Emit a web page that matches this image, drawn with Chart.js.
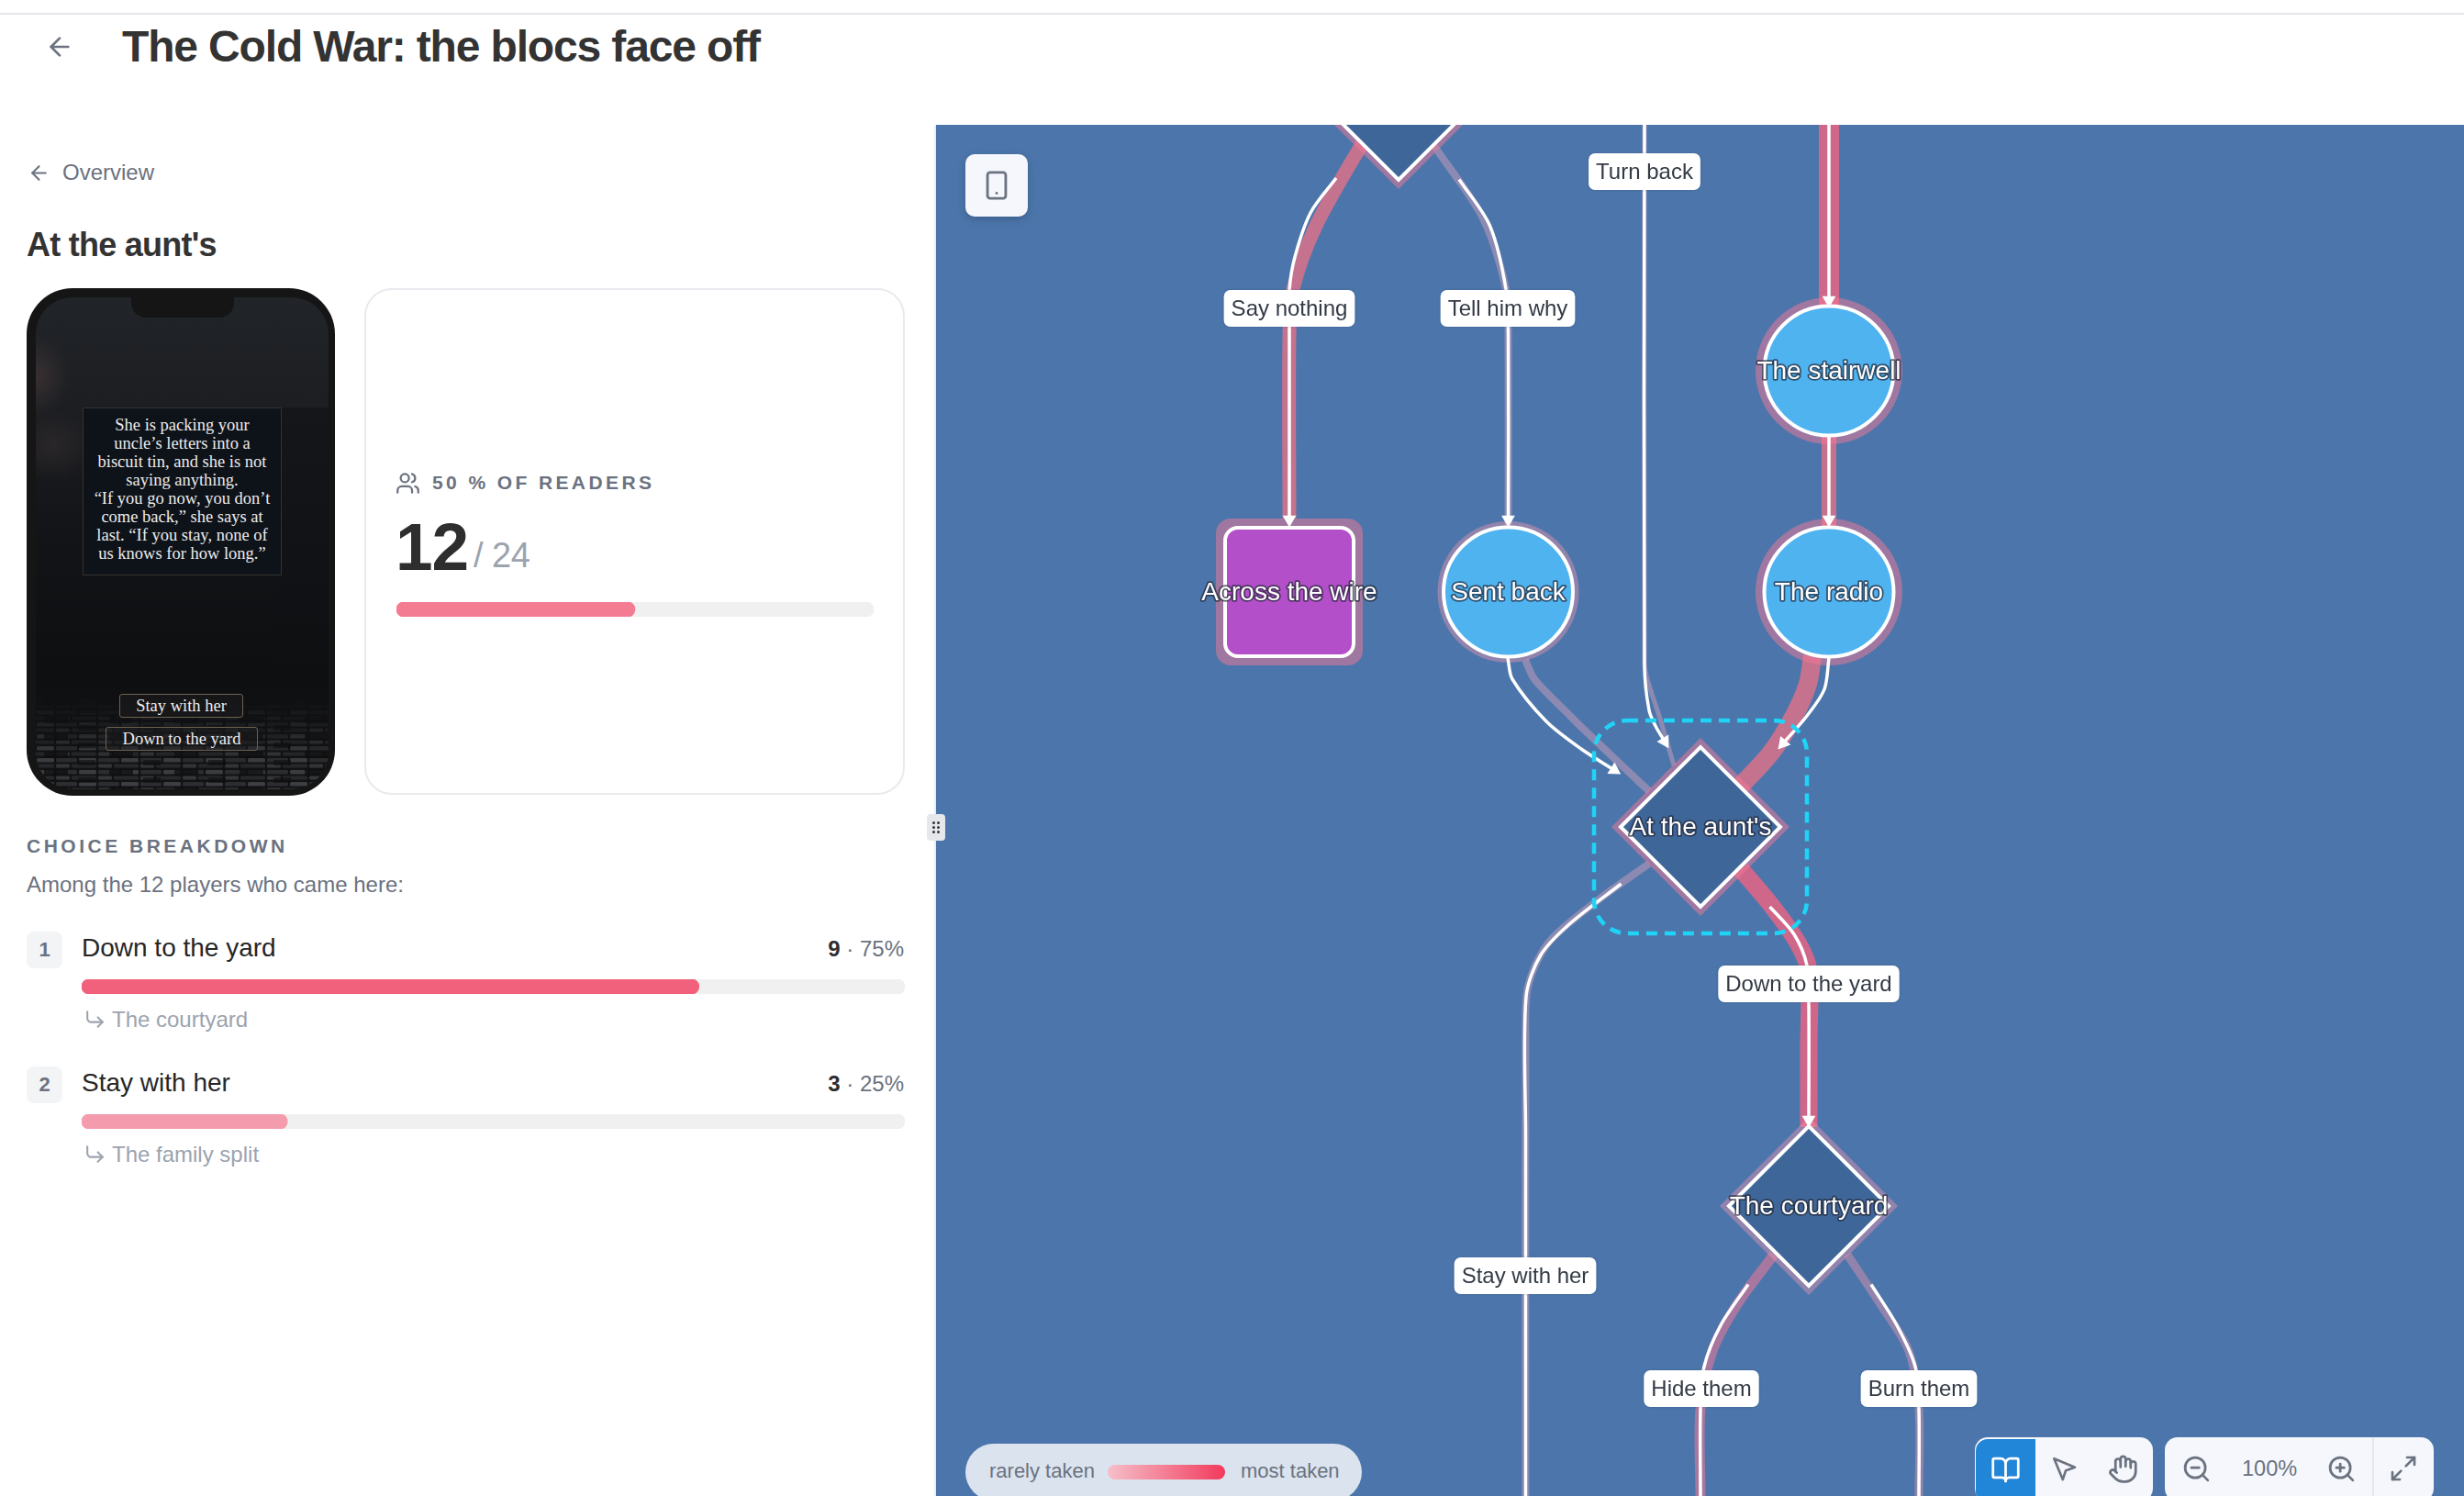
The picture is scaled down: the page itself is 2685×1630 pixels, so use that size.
<!DOCTYPE html>
<html lang="en">
<head>
<meta charset="utf-8">
<title>The Cold War: the blocs face off</title>
<script src="https://cdn.jsdelivr.net/npm/chart.js@4/dist/chart.umd.min.js"></script>
<style>
  * { box-sizing: border-box; }
  html, body { margin: 0; background: #fff; }
  body { width: 2685px; height: 1630px; position: relative; overflow: hidden; font-family: "Liberation Sans", sans-serif; color: #2e2e2e; }
  .abs { position: absolute; }
  .mid { transform: translateY(-50%); white-space: nowrap; line-height: 1; }
  svg.ic { fill: none; stroke: currentColor; stroke-width: 2; stroke-linecap: round; stroke-linejoin: round; position: absolute; }
  .topline { left: 0; top: 14px; width: 2685px; height: 2px; background: #e4e6ea; }
  h1 { margin: 0; left: 133px; top: 51px; font-size: 48px; font-weight: 700; letter-spacing: -1.15px; color: #333; }
  h2 { margin: 0; left: 29px; top: 267px; font-size: 36px; font-weight: 700; letter-spacing: -0.75px; color: #333; }
  .overview { left: 68px; top: 188px; font-size: 24px; color: #6b7280; }
  .divider { left: 1018px; top: 136px; width: 2px; height: 1494px; background: #e8ecf3; }
  .grip { left: 1010px; top: 887px; width: 20px; height: 29px; border-radius: 4px; background: #e5e7eb; z-index: 3; color: #333; font-size: 0; }
  .grip i { position: absolute; width: 3px; height: 3px; border-radius: 50%; background: #333; }

  .phone { left: 29px; top: 314px; width: 336px; height: 553px; border-radius: 50px; background: #151515; overflow: hidden; }
  .screen { position: absolute; left: 10px; top: 10px; width: 319px; height: 536px; border-radius: 40px; overflow: hidden;
    background:
      radial-gradient(50px 60px at 0% 16%, rgba(82,64,64,.5), transparent 75%),
      radial-gradient(60px 50px at 6% 30%, rgba(62,52,54,.45), transparent 80%),
      linear-gradient(180deg, #212428 0%, #1c1e22 22%, #131417 48%, #0e0f11 76%, #121315 100%); }
  .bldg { position: absolute; right: 0; top: 120px; width: 58px; height: 300px; background: linear-gradient(180deg, #15161a, #0e0f11); }
  .notch { position: absolute; left: 104px; top: 0; width: 112px; height: 22px; border-radius: 0 0 16px 16px; background: #151515; }
  .cobble { position: absolute; left: 0; top: 436px; }
  .story { left: 61px; top: 130px; width: 217px; height: 183px; background: #0e1219; border: 1px solid #34322f; text-align: center;
    font-family: "Liberation Serif", serif; font-size: 18.5px; line-height: 20px; color: #ececec; padding: 8px 4px; }
  .pbtn { height: 26px; border: 1px solid #6d6150; border-radius: 3px; background: rgba(24,24,26,.82); text-align: center;
    font-family: "Liberation Serif", serif; font-size: 18.5px; line-height: 24px; color: #ececec; }

  .card { left: 397px; top: 314px; width: 589px; height: 552px; border: 2px solid #e9eaed; border-radius: 30px; background: #fff; }
  .stat { left: 471px; top: 525px; font-size: 21px; font-weight: 700; letter-spacing: 3.4px; color: #6b7280; }
  .big { left: 431px; top: 595px; font-size: 73px; font-weight: 700; letter-spacing: -1px; color: #2e2e2e; }
  .of { left: 516px; top: 605px; font-size: 38px; color: #9ca3af; letter-spacing: -0.5px; }
  .sect { left: 29px; top: 921px; font-size: 21px; font-weight: 700; letter-spacing: 3.5px; color: #6b7280; }
  .among { left: 29px; top: 964px; font-size: 24px; color: #6b7280; }
  .badge { left: 29px; width: 39px; height: 40px; border-radius: 8px; background: #f3f4f6; color: #6b7280; font-size: 22px; font-weight: 700; text-align: center; line-height: 40px; }
  .ctitle { left: 89px; font-size: 28px; color: #262626; }
  .ccount { right: 1700px; font-size: 24px; color: #6b7280; }
  .ccount b { color: #2e2e2e; }
  .ctarget { left: 122px; font-size: 24px; color: #9ca3af; }

  #graphWrap { left: 1020px; top: 136px; width: 1665px; height: 1494px; background: #4c76ab; }
  .tool { background: #f5f7fc; border-radius: 14px; z-index: 2; color: #6b7280; }
  .devbtn { left: 1052px; top: 168px; width: 68px; height: 68px; border-radius: 10px; box-shadow: 0 3px 8px rgba(20,40,70,.28); }
  .legend { left: 1052px; top: 1573px; width: 432px; height: 62px; border-radius: 31px; background: #dbe3ee; z-index: 2; }
  .legend span { position: absolute; top: 30px; font-size: 22px; color: #6b7280; transform: translateY(-50%); white-space: nowrap; line-height: 1; }
  .legend i { position: absolute; left: 155px; top: 23px; width: 128px; height: 16px; border-radius: 8px; background: linear-gradient(90deg, #f6bfca, #f23a5c); }
  .mode { left: 2152px; top: 1566px; width: 194px; height: 70px; overflow: hidden; }
  .mode .on { position: absolute; left: 1px; top: 2px; width: 65px; height: 70px; background: #2185d8; border-radius: 13px 0 0 0; color: #fff; }
  .zoombox { left: 2359px; top: 1566px; width: 293px; height: 70px; }
  .zoombox .sep { position: absolute; left: 226px; top: 0; width: 2px; height: 70px; background: #e3e6ec; }
</style>
</head>
<body>
<div class="abs topline"></div>
<svg class="ic" style="left:49px;top:35px;color:#6b7280" width="32" height="32" viewBox="0 0 24 24"><path d="m12 19-7-7 7-7"/><path d="M19 12H5"/></svg>
<h1 class="abs mid">The Cold War: the blocs face off</h1>

<svg class="ic" style="left:30px;top:176px;color:#6b7280" width="25" height="25" viewBox="0 0 24 24"><path d="m12 19-7-7 7-7"/><path d="M19 12H5"/></svg>
<div class="abs mid overview">Overview</div>
<h2 class="abs mid" id="nodeTitle"></h2>
<div class="abs divider"></div>
<div class="abs grip"><i style="left:6px;top:8px"></i><i style="left:11px;top:8px"></i><i style="left:6px;top:13px"></i><i style="left:11px;top:13px"></i><i style="left:6px;top:18px"></i><i style="left:11px;top:18px"></i></div>

<!-- phone preview -->
<div class="abs phone">
  <div class="screen">
    <div class="bldg"></div>
    <svg class="cobble" width="319" height="100">
      <defs>
        <pattern id="stones" width="46" height="13" patternUnits="userSpaceOnUse">
          <rect x="1" y="1" width="19" height="4.5" rx="1.5" fill="#55565a"/>
          <rect x="22" y="1" width="23" height="4.5" rx="1.5" fill="#3b3c3f"/>
          <rect x="-7" y="7.5" width="27" height="4" rx="1.5" fill="#343538"/>
          <rect x="39" y="7.5" width="27" height="4" rx="1.5" fill="#343538"/>
          <rect x="22" y="7.5" width="15" height="4" rx="1.5" fill="#4a4b4e"/>
        </pattern>
        <pattern id="gaps" width="71" height="19" patternUnits="userSpaceOnUse">
          <rect x="9" y="2" width="26" height="7" fill="#0c0c0d" opacity=".75"/>
          <rect x="46" y="11" width="19" height="6" fill="#0c0c0d" opacity=".6"/>
        </pattern>
        <linearGradient id="fade" x1="0" y1="0" x2="0" y2="1">
          <stop offset="0" stop-color="#000"/><stop offset=".25" stop-color="#333"/><stop offset=".65" stop-color="#999"/><stop offset="1" stop-color="#aaa"/>
        </linearGradient>
        <mask id="cobbleMask"><rect width="319" height="100" fill="url(#fade)"/></mask>
      </defs>
      <g mask="url(#cobbleMask)">
        <rect width="319" height="100" fill="url(#stones)"/>
        <rect width="319" height="100" fill="url(#gaps)"/>
      </g>
    </svg>
    <div class="notch"></div>
  </div>
  <div class="abs story" id="story"></div>
  <div class="abs pbtn" style="left:101px;top:442px;width:135px">Stay with her</div>
  <div class="abs pbtn" style="left:86px;top:478px;width:166px;background:rgba(30,30,32,.4)">Down to the yard</div>
</div>

<!-- readers card -->
<div class="abs card"></div>
<svg class="ic" style="left:431px;top:513px;color:#6b7280" width="27" height="27" viewBox="0 0 24 24"><path d="M16 21v-2a4 4 0 0 0-4-4H6a4 4 0 0 0-4 4v2"/><circle cx="9" cy="7" r="4"/><path d="M22 21v-2a4 4 0 0 0-3-3.87"/><path d="M16 3.13a4 4 0 0 1 0 7.75"/></svg>
<div class="abs mid stat" id="statText"></div>
<div class="abs mid big" id="statCount"></div>
<div class="abs mid of" id="statTotal"></div>
<canvas class="abs" id="readersBar" width="520" height="16" style="left:432px;top:656px"></canvas>

<!-- choices -->
<div class="abs mid sect">CHOICE BREAKDOWN</div>
<div class="abs mid among" id="amongText"></div>
<div id="choices"></div>

<!-- graph -->
<div class="abs" id="graphWrap"><canvas id="graph" width="1665" height="1494"></canvas></div>
<div class="abs tool devbtn"><svg class="ic" style="left:17px;top:17px" width="34" height="34" viewBox="0 0 24 24"><rect x="5" y="2" width="14" height="20" rx="2"/><path d="M12 18h.01"/></svg></div>
<div class="abs legend"><span style="left:26px">rarely taken</span><i></i><span style="left:300px">most taken</span></div>
<div class="abs tool mode">
  <div class="on"><svg class="ic" style="left:16px;top:17px" width="33" height="33" viewBox="0 0 24 24"><path d="M12 7v14"/><path d="M3 18a1 1 0 0 1-1-1V4a1 1 0 0 1 1-1h5a4 4 0 0 1 4 4 4 4 0 0 1 4-4h5a1 1 0 0 1 1 1v13a1 1 0 0 1-1 1h-6a3 3 0 0 0-3 3 3 3 0 0 0-3-3z"/></svg></div>
  <svg class="ic" style="left:81px;top:18px" width="32" height="32" viewBox="0 0 24 24"><path d="m4 4 7.07 17 2.51-7.39L21 11.07z"/></svg>
  <svg class="ic" style="left:145px;top:18px" width="33" height="33" viewBox="0 0 24 24"><path d="M18 11V6a2 2 0 0 0-2-2a2 2 0 0 0-2 2"/><path d="M14 10V4a2 2 0 0 0-2-2a2 2 0 0 0-2 2v2"/><path d="M10 10.5V6a2 2 0 0 0-2-2a2 2 0 0 0-2 2v8"/><path d="M18 8a2 2 0 1 1 4 0v6a8 8 0 0 1-8 8h-2c-2.8 0-4.5-.86-5.99-2.34l-3.6-3.6a2 2 0 0 1 2.83-2.82L7 15"/></svg>
</div>
<div class="abs tool zoombox">
  <svg class="ic" style="left:18px;top:18px" width="33" height="33" viewBox="0 0 24 24"><circle cx="11" cy="11" r="8"/><path d="m21 21-4.35-4.35"/><path d="M8 11h6"/></svg>
  <div class="abs mid" style="left:114px;top:35px;font-size:23.5px;width:0"><b style="font-weight:400;display:block;width:60px;margin-left:-30px;text-align:center;">100%</b></div>
  <svg class="ic" style="left:176px;top:18px" width="33" height="33" viewBox="0 0 24 24"><circle cx="11" cy="11" r="8"/><path d="m21 21-4.35-4.35"/><path d="M11 8v6"/><path d="M8 11h6"/></svg>
  <div class="sep"></div>
  <svg class="ic" style="left:244px;top:18px" width="32" height="32" viewBox="0 0 24 24"><path d="M15 3h6v6"/><path d="m21 3-7 7"/><path d="m3 21 7-7"/><path d="M9 21H3v-6"/></svg>
</div>

<script>
// ──────────────────────────────────────────────
// Data
// ──────────────────────────────────────────────
const currentNode = "At the aunt's";
const readersHere = 12;
const readersTotal = 24;
const storyLines = ['She is packing your', 'uncle’s letters into a', 'biscuit tin, and she is not', 'saying anything.', '“If you go now, you don’t', 'come back,” she says at', 'last. “If you stay, none of', 'us knows for how long.”'];

const choiceLabels = ['Down to the yard', 'Stay with her'];
const choiceCounts = [9, 3];
const choiceTargets = ['The courtyard', 'The family split'];

// graph nodes, in the graph's own units (origin at its top left corner)
const nodeLabels = ['', 'Across the wire', 'Sent back', 'The stairwell', 'The radio', currentNode, 'The courtyard'];
const nodeX = [504, 385, 623.5, 973, 973, 833, 951];
const nodeY = [-27, 509, 509, 268, 509, 765, 1178];
const nodeKinds = ['scene', 'end', 'info', 'info', 'info', 'scene', 'scene'];

// edge labels
const edgeLabels = ['Say nothing', 'Tell him why', 'Turn back', 'Down to the yard', 'Stay with her', 'Hide them', 'Burn them'];
const edgeLabelX = [385, 623, 772, 951, 642, 834, 1071];
const edgeLabelY = [200, 200, 51, 936, 1254, 1377, 1377];

// traffic band under each edge
const sayNothingBand = [[480, 0], [463, 23], [414, 110], [389, 179], [385, 229], [385, 429]];
const tellHimBand = [[530, 5], [547, 29], [596, 102], [621, 179], [623.5, 240], [623.5, 438]];
const turnBackBand = [[772, 0], [772, 585], [775, 604], [788, 644], [804, 698]];
const stairwellInBand = [[973, 0], [973, 200]];
const stairwellOutBand = [[973, 338], [973, 438]];
const radioOutBand = [[955, 579], [950, 609], [935, 644], [910, 684], [877, 720]];
const sentBackBand = [[642, 583], [652, 604], [691, 644], [703, 656], [777, 726]];
const stayBand = [[777, 805], [721, 845], [667.5, 891], [645, 939], [642.5, 1000], [642.5, 1494]];
const yardBand = [[877, 811], [913, 854], [940, 893], [951, 922], [951, 1000], [951, 1092]];
const hideBand = [[913, 1231], [873, 1285], [846, 1336], [833, 1399], [833, 1494]];
const burnBand = [[993, 1231], [1029, 1285], [1060, 1336], [1071, 1399], [1071, 1494]];

// thin line drawn on top of the band
const sayNothingLine = [[436, 58], [408, 96], [391, 144], [385, 180], [385, 220], [385, 430]];
const tellHimLine = [[570, 59.5], [603.5, 110], [621, 179], [623.5, 230], [623.5, 430]];
const turnBackLine = [[772, 0], [772, 590], [777, 638], [784, 655], [794, 672]];
const stairwellInLine = [[973, 0], [973, 191]];
const stairwellOutLine = [[973, 338], [973, 430]];
const radioOutLine = [[973, 581], [968, 615], [949, 644], [923, 674]];
const sentBackLine = [[623, 581], [628, 604], [665, 650], [703, 680], [739, 703]];
const stayLine = [[746.5, 827], [690, 871], [658.6, 905], [643, 950], [642.5, 1100], [642.5, 1494]];
const yardLine = [[908.6, 852], [935, 882], [949, 916], [951, 960], [951, 1084]];
const hideLine = [[885, 1263.5], [855, 1308], [837, 1353], [833, 1400], [833, 1494]];
const burnLine = [[1019, 1263.5], [1047, 1308], [1067, 1353], [1071, 1400], [1071, 1494]];

// ──────────────────────────────────────────────
// Edge styles: band width and colour follow traffic
// ──────────────────────────────────────────────
const TOP = 'rgba(240,100,130,0.80)';
const HOT = 'rgba(244,112,132,0.72)';
const WARM = 'rgba(244,120,150,0.55)';
const MILD = 'rgba(244,150,175,0.42)';
const PALE = 'rgba(244,170,190,0.38)';

const bands = [
  [sayNothingBand, 15, HOT], [tellHimBand, 8, PALE], [turnBackBand, 5, PALE],
  [stairwellInBand, 22, TOP], [stairwellOutBand, 16, HOT], [radioOutBand, 20, HOT],
  [sentBackBand, 8, PALE], [stayBand, 8, PALE], [yardBand, 19, TOP],
  [hideBand, 11, WARM], [burnBand, 9, MILD],
];
const lines = [
  [sayNothingLine, true], [tellHimLine, true], [turnBackLine, true],
  [stairwellInLine, true], [stairwellOutLine, true], [radioOutLine, true],
  [sentBackLine, true], [stayLine, false], [yardLine, true],
  [hideLine, false], [burnLine, false],
];

const points = (pairs) => pairs.map(([x, y]) => ({ x, y }));

const arrowAngle = (pairs) => {
  const [x0, y0] = pairs[pairs.length - 2];
  const [x1, y1] = pairs[pairs.length - 1];
  return Math.atan2(x1 - x0, y0 - y1) * 180 / Math.PI;
};

// rounded square: Chart.js' own rectRounded is too round for the ending nodes
function roundedSprite(size, radius, fill, stroke) {
  const c = document.createElement('canvas');
  c.width = size; c.height = size;
  const g = c.getContext('2d');
  const inset = stroke ? 2 : 0;
  g.fillStyle = fill;
  g.beginPath();
  g.roundRect(inset, inset, size - inset * 2, size - inset * 2, radius);
  g.fill();
  if (stroke) { g.strokeStyle = stroke; g.lineWidth = 4; g.stroke(); }
  return c;
}
const endSprite = roundedSprite(144, 14, '#b34fc8', '#fff');
const endHaloSprite = roundedSprite(160, 16, 'rgba(244,120,150,0.50)');

const isScene = (i) => nodeKinds[i] === 'scene';
const isEnd = (i) => nodeKinds[i] === 'end';
const haloRadius = (i) => (isScene(i) ? 97 : nodeLabels[i] === 'Sent back' ? 77 : 80);
const haloColor = (i) => (nodeLabels[i] === 'The courtyard' || nodeLabels[i] === 'Sent back' ? 'rgba(244,150,175,0.42)' : 'rgba(244,120,150,0.50)');

const graphDatasets = [];
// first dataset is painted last, so the list runs from top to bottom
lines.forEach(([pairs, hasArrow]) => {
  const last = pairs.length - 1;
  graphDatasets.push({
    data: points(pairs),
    showLine: true,
    tension: 0.3,
    borderColor: '#fff',
    borderWidth: 3.5,
    pointStyle: 'triangle',
    pointRadius: (c) => (hasArrow && c.dataIndex === last ? 8.5 : 0),
    pointRotation: arrowAngle(pairs),
    pointBackgroundColor: '#fff',
    pointBorderWidth: 0,
  });
});
graphDatasets.push({
  data: nodeX.map((x, i) => ({ x, y: nodeY[i] })),
  pointStyle: (c) => (isEnd(c.dataIndex) ? endSprite : isScene(c.dataIndex) ? 'rectRot' : 'circle'),
  pointRadius: (c) => (isScene(c.dataIndex) ? 87 : 70.5),
  pointBackgroundColor: (c) => (isScene(c.dataIndex) ? '#3f6699' : '#4fb3f0'),
  pointBorderColor: '#fff',
  pointBorderWidth: 4,
  showLine: false,
  clip: false,
});
graphDatasets.push({
  data: nodeX.map((x, i) => ({ x, y: nodeY[i] })),
  pointStyle: (c) => (isEnd(c.dataIndex) ? endHaloSprite : isScene(c.dataIndex) ? 'rectRot' : 'circle'),
  pointRadius: (c) => haloRadius(c.dataIndex),
  pointBackgroundColor: (c) => haloColor(c.dataIndex),
  pointBorderWidth: 0,
  showLine: false,
  clip: false,
});
bands.forEach(([pairs, width, color]) => {
  graphDatasets.push({
    data: points(pairs),
    showLine: true,
    tension: 0.3,
    borderColor: color,
    borderWidth: width,
    pointRadius: 0,
  });
});

// ──────────────────────────────────────────────
// Overlays: selection frame and all graph text
// ──────────────────────────────────────────────
const graphOverlay = {
  id: 'graphOverlay',
  afterDraw(chart) {
    const { ctx, scales: { x, y } } = chart;
    const sel = nodeLabels.indexOf(currentNode);

    ctx.save();
    const half = 116;
    const sx = x.getPixelForValue(nodeX[sel]);
    const sy = y.getPixelForValue(nodeY[sel]);
    ctx.strokeStyle = '#1fd4f7';
    ctx.lineWidth = 4.5;
    ctx.setLineDash([12, 8]);
    ctx.beginPath();
    ctx.roundRect(sx - half, sy - half, half * 2, half * 2, 36);
    ctx.stroke();
    ctx.restore();

    ctx.save();
    ctx.textAlign = 'center';
    ctx.textBaseline = 'middle';
    ctx.font = '24px "Liberation Sans", sans-serif';
    edgeLabels.forEach((label, i) => {
      const px = x.getPixelForValue(edgeLabelX[i]);
      const py = y.getPixelForValue(edgeLabelY[i]);
      const w = ctx.measureText(label).width + 16;
      ctx.fillStyle = '#fff';
      ctx.shadowColor = 'rgba(20,40,70,0.25)';
      ctx.shadowBlur = 3;
      ctx.beginPath();
      ctx.roundRect(px - w / 2, py - 20, w, 40, 7);
      ctx.fill();
      ctx.shadowBlur = 0;
      ctx.shadowColor = 'transparent';
      ctx.fillStyle = '#333a45';
      ctx.fillText(label, px, py + 1);
    });

    ctx.font = '28px "Liberation Sans", sans-serif';
    nodeLabels.forEach((label, i) => {
      if (!label) return;
      const px = x.getPixelForValue(nodeX[i]);
      const py = y.getPixelForValue(nodeY[i]);
      ctx.lineWidth = 3.5;
      ctx.lineJoin = 'round';
      ctx.strokeStyle = 'rgba(35,40,55,0.7)';
      ctx.strokeText(label, px, py + 1);
      ctx.fillStyle = '#fff';
      ctx.fillText(label, px, py + 1);
    });
    ctx.restore();
  },
};

Chart.defaults.animation = false;

new Chart(document.getElementById('graph'), {
  type: 'scatter',
  data: { datasets: graphDatasets },
  options: {
    responsive: false,
    events: [],
    layout: { padding: 0, autoPadding: false },
    plugins: { legend: { display: false }, tooltip: { enabled: false } },
    scales: {
      x: { type: 'linear', display: false, min: 0, max: 1665 },
      y: { type: 'linear', display: false, min: 0, max: 1494, reverse: true },
    },
  },
  plugins: [graphOverlay],
});

// ──────────────────────────────────────────────
// Progress bars
// ──────────────────────────────────────────────
function progressBar(canvas, value, max, color) {
  return new Chart(canvas, {
    type: 'bar',
    data: {
      labels: [''],
      datasets: [
        { data: [value], backgroundColor: color, borderRadius: 8, borderSkipped: false },
        { data: [max], backgroundColor: '#f0f0f1', borderRadius: 8, borderSkipped: false },
      ],
    },
    options: {
      responsive: false,
      indexAxis: 'y',
      events: [],
      grouped: false,
      barPercentage: 1,
      categoryPercentage: 1,
      layout: { padding: 0 },
      plugins: { legend: { display: false }, tooltip: { enabled: false } },
      scales: { x: { display: false, min: 0, max }, y: { display: false } },
    },
  });
}

document.getElementById('nodeTitle').textContent = currentNode;
document.getElementById('story').innerHTML = storyLines.join('<br>');
document.getElementById('statText').textContent = `${Math.round(readersHere / readersTotal * 100)} % OF READERS`;
document.getElementById('statCount').textContent = readersHere;
document.getElementById('statTotal').textContent = `/ ${readersTotal}`;
document.getElementById('amongText').textContent = `Among the ${readersHere} players who came here:`;
progressBar(document.getElementById('readersBar'), readersHere, readersTotal, '#f47c92');

const barColors = ['#f2617b', '#f49cae'];
const rowTops = [1015, 1162];
const choicesEl = document.getElementById('choices');
choiceLabels.forEach((label, i) => {
  const top = rowTops[i];
  const pct = Math.round(choiceCounts[i] / readersHere * 100);
  choicesEl.insertAdjacentHTML('beforeend', `
    <div class="abs badge" style="top:${top}px">${i + 1}</div>
    <div class="abs mid ctitle" style="top:${top + 18}px">${label}</div>
    <div class="abs mid ccount" style="top:${top + 19}px"><b>${choiceCounts[i]}</b> · ${pct}%</div>
    <canvas class="abs" id="choiceBar${i}" width="897" height="16" style="left:89px;top:${top + 52}px"></canvas>
    <svg class="ic" style="left:91px;top:${top + 83}px;color:#9ca3af" width="25" height="25" viewBox="0 0 24 24"><polyline points="15 10 20 15 15 20"/><path d="M4 4v7a4 4 0 0 0 4 4h12"/></svg>
    <div class="abs mid ctarget" style="top:${top + 96}px">${choiceTargets[i]}</div>`);
  progressBar(document.getElementById(`choiceBar${i}`), choiceCounts[i], readersHere, barColors[i]);
});
</script>
</body>
</html>
